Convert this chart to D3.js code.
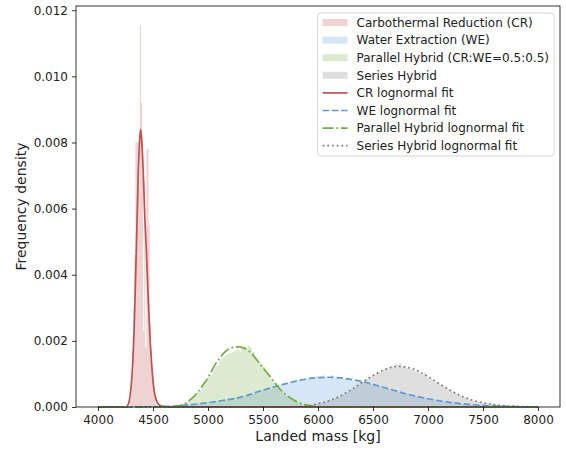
<!DOCTYPE html>
<html>
<head>
<meta charset="utf-8">
<script src="https://cdn.jsdelivr.net/npm/d3@7"></script>
<style>
body { margin: 0; background: #fff; }
svg { display: block; font-family: "DejaVu Sans", sans-serif; }
</style>
</head>
<body>
<div id="chart"></div>
<script>
// Histograms (density per bin)
const crStart = 4290, crStep = 10;
const crDensity = [
	0.0002, 0.0006, 0.0017, 0.0030, 0.0046, 0.0080, 0.0080, 0.0080, 0.0066, 0.01155,
	0.0092, 0.0070, 0.0023, 0.0068, 0.0018, 0.0078, 0.0078, 0.0055, 0.0025, 0.0017,
	0.0010, 0.0006, 0.0003, 0.0001
];

const weStart = 4700, weStep = 20;
const weDensity = [
	0.00003, 0.00004, 0.00004, 0.00005, 0.00005, 0.00006, 0.00007, 0.00008, 0.00008, 0.00009,
	0.00010, 0.00011, 0.00011, 0.00012, 0.00013, 0.00014, 0.00015, 0.00016, 0.00016, 0.00018,
	0.00019, 0.00020, 0.00021, 0.00023, 0.00023, 0.00025, 0.00026, 0.00027, 0.00029, 0.00030,
	0.00031, 0.00033, 0.00035, 0.00036, 0.00039, 0.00041, 0.00043, 0.00046, 0.00047, 0.00050,
	0.00052, 0.00054, 0.00056, 0.00057, 0.00060, 0.00062, 0.00063, 0.00066, 0.00067, 0.00069,
	0.00071, 0.00072, 0.00075, 0.00076, 0.00078, 0.00079, 0.00081, 0.00082, 0.00084, 0.00086,
	0.00085, 0.00087, 0.00091, 0.00088, 0.00094, 0.00089, 0.00090, 0.00096, 0.00089, 0.00091,
	0.00087, 0.00097, 0.00088, 0.00090, 0.00086, 0.00089, 0.00085, 0.00086, 0.00083, 0.00084,
	0.00080, 0.00081, 0.00078, 0.00079, 0.00076, 0.00077, 0.00074, 0.00073, 0.00071, 0.00069,
	0.00068, 0.00065, 0.00064, 0.00061, 0.00060, 0.00058, 0.00056, 0.00054, 0.00052, 0.00051,
	0.00048, 0.00047, 0.00045, 0.00043, 0.00041, 0.00039, 0.00038, 0.00036, 0.00034, 0.00033,
	0.00031, 0.00030, 0.00028, 0.00027, 0.00026, 0.00024, 0.00023, 0.00022, 0.00021, 0.00019,
	0.00018, 0.00017, 0.00016, 0.00015, 0.00014, 0.00013, 0.00013, 0.00012, 0.00011, 0.00010,
	0.00010, 0.00009, 0.00008, 0.00008, 0.00007, 0.00007, 0.00006, 0.00006, 0.00005, 0.00005,
	0.00004, 0.00004, 0.00004, 0.00003, 0.00003
];

const phStart = 4740, phStep = 20;
const phDensity = [
	0.00004, 0.00007, 0.00012, 0.00014, 0.00022, 0.00024, 0.00030, 0.00041, 0.00046, 0.00052,
	0.00066, 0.00071, 0.00078, 0.00091, 0.00096, 0.00110, 0.00121, 0.00128, 0.00140, 0.00147,
	0.00153, 0.00158, 0.00161, 0.00163, 0.00167, 0.00170, 0.00176, 0.00168, 0.00178, 0.00183,
	0.00176, 0.00187, 0.00181, 0.00166, 0.00150, 0.00143, 0.00137, 0.00131, 0.00121, 0.00103,
	0.00098, 0.00086, 0.00079, 0.00070, 0.00063, 0.00055, 0.00049, 0.00041, 0.00036, 0.00031,
	0.00026, 0.00022, 0.00018, 0.00015, 0.00012, 0.00010, 0.00008, 0.00006, 0.00005, 0.00004,
	0.00003, 0.00002, 0.00001
];

const shStart = 5900, shStep = 20;
const shDensity = [
	0.00003, 0.00005, 0.00006, 0.00008, 0.00009, 0.00011, 0.00013, 0.00014, 0.00017, 0.00018,
	0.00021, 0.00023, 0.00026, 0.00028, 0.00031, 0.00034, 0.00038, 0.00041, 0.00045, 0.00049,
	0.00054, 0.00057, 0.00063, 0.00066, 0.00073, 0.00076, 0.00082, 0.00084, 0.00091, 0.00093,
	0.00099, 0.00101, 0.00106, 0.00104, 0.00113, 0.00111, 0.00118, 0.00114, 0.00126, 0.00119,
	0.00131, 0.00127, 0.00133, 0.00121, 0.00124, 0.00117, 0.00119, 0.00113, 0.00112, 0.00107,
	0.00104, 0.00101, 0.00097, 0.00104, 0.00090, 0.00088, 0.00084, 0.00081, 0.00075, 0.00074,
	0.00068, 0.00066, 0.00060, 0.00058, 0.00052, 0.00050, 0.00045, 0.00043, 0.00038, 0.00036,
	0.00032, 0.00030, 0.00027, 0.00025, 0.00022, 0.00020, 0.00018, 0.00017, 0.00015, 0.00013,
	0.00012, 0.00011, 0.00009, 0.00008, 0.00008, 0.00007, 0.00006, 0.00005, 0.00005, 0.00004,
	0.00004, 0.00003, 0.00003, 0.00003, 0.00002, 0.00002, 0.00002, 0.00001, 0.00001, 0.00001,
	0.00001, 0.00001, 0.00001, 0.00001, 0.00001
];

// lognormal fit curves
const crFitX = [4000, 4250, 4270, 4290, 4310, 4330, 4350, 4365, 4377, 4387, 4397, 4410, 4425, 4440, 4455, 4470, 4490, 4510, 4530, 4560, 4600, 4650, 8000];
const crFitY = [0, 0, 0.00005, 0.0003, 0.0010, 0.0025, 0.0050, 0.0069, 0.0080, 0.0084, 0.0081, 0.0072, 0.0058, 0.0047, 0.0034, 0.0023, 0.0012, 0.0005, 0.0002, 0.00005, 0.00001, 0, 0];

const weFitX = [4000, 4300, 4500, 4700, 4900, 5100, 5300, 5500, 5700, 5850, 6000, 6100, 6200, 6400, 6600, 6800, 7000, 7200, 7400, 7600, 7800, 8000];
const weFitY = [0, 0, 0.00001, 0.00003, 0.00009, 0.00018, 0.00030, 0.00051, 0.00070, 0.00082, 0.00089, 0.00090, 0.00088, 0.00077, 0.00059, 0.00040, 0.00025, 0.00014, 0.00007, 0.00003, 0.00001, 0];

const phFitX = [4000, 4650, 4750, 4800, 4850, 4900, 4950, 5000, 5050, 5100, 5150, 5200, 5270, 5330, 5400, 5450, 5500, 5550, 5600, 5650, 5700, 5750, 5800, 5850, 5900, 5950, 6000, 6050, 8000];
const phFitY = [0, 0, 0.00005, 0.00012, 0.00025, 0.00042, 0.00065, 0.00088, 0.00120, 0.00145, 0.00165, 0.00177, 0.00182, 0.00178, 0.00160, 0.00140, 0.00118, 0.00098, 0.00077, 0.00056, 0.00040, 0.00027, 0.00017, 0.00010, 0.00006, 0.00003, 0.00001, 0, 0];

const shFitX = [4000, 5700, 5800, 5900, 6000, 6100, 6200, 6300, 6400, 6500, 6600, 6700, 6750, 6800, 6900, 7000, 7100, 7200, 7300, 7400, 7500, 7600, 7700, 7800, 7900, 8000];
const shFitY = [0, 0, 0.00001, 0.00003, 0.00010, 0.00019, 0.00033, 0.00052, 0.00074, 0.00095, 0.00112, 0.00122, 0.00123, 0.00121, 0.00110, 0.00092, 0.00071, 0.00051, 0.00034, 0.00021, 0.00013, 0.00007, 0.00004, 0.00002, 0.00001, 0];

const xTicks = [4000, 4500, 5000, 5500, 6000, 6500, 7000, 7500, 8000];
const yTicks = [0, 0.002, 0.004, 0.006, 0.008, 0.010, 0.012];
const histNames = ['Carbothermal Reduction (CR)', 'Water Extraction (WE)', 'Parallel Hybrid (CR:WE=0.5:0.5)', 'Series Hybrid'];
const fitNames = ['CR lognormal fit', 'WE lognormal fit', 'Parallel Hybrid lognormal fit', 'Series Hybrid lognormal fit'];

const W = 566, H = 450;
const m = { left: 76, right: 6, top: 6, bottom: 43 };
const colors = ['#c0504d', '#5b9bd5', '#70ad47', '#7f7f7f'];
const dashes = [null, '6.5,2.8', '11,2.8,1.8,2.8', '1.8,2.9'];
const fs = '12px';

const hists = [
	{ start: crStart, step: crStep, vals: crDensity },
	{ start: weStart, step: weStep, vals: weDensity },
	{ start: phStart, step: phStep, vals: phDensity },
	{ start: shStart, step: shStep, vals: shDensity }
];
const fits = [[crFitX, crFitY], [weFitX, weFitY], [phFitX, phFitY], [shFitX, shFitY]];

let svg = d3.select('#chart').append('svg')
	.attr('width', W).attr('height', H);

const x = d3.scaleLinear().domain([3800, 8200]).range([m.left, W - m.right]);
const yMax = d3.max(hists, h => d3.max(h.vals)) * 1.05;
const y = d3.scaleLinear().domain([0, yMax]).range([H - m.bottom, m.top]);

// histograms as stepped areas
const area = d3.area()
	.curve(d3.curveStepAfter)
	.x(d => x(d[0]))
	.y0(y(0))
	.y1(d => y(d[1]));

hists.forEach(function(h, i) {
	let pts = h.vals.map((v, k) => [h.start + k * h.step, v]);
	pts.push([h.start + h.vals.length * h.step, 0]);
	svg.append('path')
		.attr('d', area(pts))
		.attr('fill', colors[i])
		.attr('fill-opacity', 0.25);
});

// fit lines
const line = d3.line()
	.curve(d3.curveMonotoneX)
	.x(d => x(d[0]))
	.y(d => y(d[1]));

fits.forEach(function(f, i) {
	let pts = f[0].map((v, k) => [v, f[1][k]]);
	svg.append('path')
		.attr('d', line(pts))
		.attr('fill', 'none')
		.attr('stroke', colors[i])
		.attr('stroke-width', 1.7)
		.attr('stroke-dasharray', dashes[i]);
});

// axes
let gx = svg.append('g')
	.attr('transform', 'translate(0,' + (H - m.bottom) + ')')
	.call(d3.axisBottom(x).tickValues(xTicks).tickSize(4).tickPadding(4).tickFormat(d3.format('d')));
let gy = svg.append('g')
	.attr('transform', 'translate(' + m.left + ',0)')
	.call(d3.axisLeft(y).tickValues(yTicks).tickSize(4).tickPadding(4).tickFormat(d3.format('.3f')));
[gx, gy].forEach(function(g) {
	g.select('.domain').remove();
	g.selectAll('.tick line').attr('stroke', '#000').attr('stroke-width', 0.8);
	g.selectAll('.tick text').attr('fill', '#222').style('font-size', fs).style('font-family', '"DejaVu Sans", sans-serif');
});

// frame
svg.append('rect')
	.attr('x', m.left).attr('y', m.top)
	.attr('width', W - m.right - m.left).attr('height', H - m.bottom - m.top)
	.attr('fill', 'none').attr('stroke', '#000').attr('stroke-width', 0.8);

// axis labels
svg.append('text')
	.attr('x', (m.left + W - m.right) / 2).attr('y', 441)
	.attr('text-anchor', 'middle')
	.style('font-size', '14px').attr('fill', '#222')
	.text('Landed mass [kg]');
svg.append('text')
	.attr('transform', 'translate(26,' + ((m.top + H - m.bottom) / 2) + ') rotate(-90)')
	.attr('text-anchor', 'middle')
	.style('font-size', '14px').attr('fill', '#222')
	.text('Frequency density');

// legend, anchored to the upper right corner
let lg = svg.append('g');
let box = lg.append('rect')
	.attr('height', 143).attr('rx', 3)
	.attr('fill', '#fff').attr('fill-opacity', 0.8)
	.attr('stroke', '#cccccc').attr('stroke-width', 0.8);

const rowH = 17.6;
let labels = [];
histNames.forEach(function(name, i) {
	let r = lg.append('g').attr('transform', 'translate(0,' + (9.5 + i * rowH) + ')');
	r.append('rect').attr('x', 5).attr('y', -3.5).attr('width', 25).attr('height', 7)
		.attr('fill', colors[i]).attr('fill-opacity', 0.25);
	labels.push(r.append('text').attr('x', 39).attr('dy', '0.35em').style('font-size', fs).attr('fill', '#222').text(name));
});
fitNames.forEach(function(name, i) {
	let r = lg.append('g').attr('transform', 'translate(0,' + (9.5 + (i + 4) * rowH) + ')');
	r.append('line').attr('x1', 5).attr('x2', 30)
		.attr('stroke', colors[i]).attr('stroke-width', 1.7)
		.attr('stroke-dasharray', dashes[i]);
	labels.push(r.append('text').attr('x', 39).attr('dy', '0.35em').style('font-size', fs).attr('fill', '#222').text(name));
});
const textW = d3.max(labels, t => t.node().getComputedTextLength());
const boxW = 39 + textW + 5;
box.attr('width', boxW);
lg.attr('transform', 'translate(' + (W - m.right - 6 - boxW) + ',13)');
</script>
</body>
</html>
